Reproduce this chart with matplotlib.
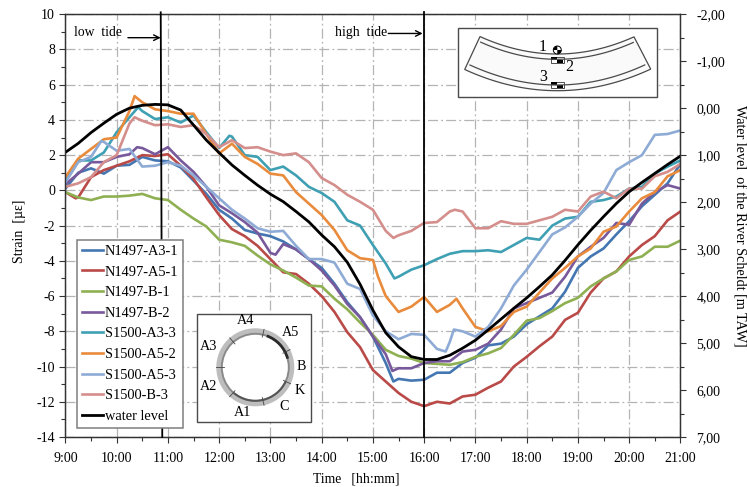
"""Strain in the tunnel segments against the water level of the river."""

import matplotlib
matplotlib.use("Agg")
import matplotlib.pyplot as plt
import numpy as np
from matplotlib.patches import Arc, Circle, Polygon, Rectangle, Wedge
from matplotlib.ticker import FixedLocator, FuncFormatter, MultipleLocator

plt.rcParams["font.family"] = ["Liberation Serif", "DejaVu Serif"]
plt.rcParams["axes.unicode_minus"] = False

# 9:00 .. 21:00 read every quarter of an hour
TIMES = 9 + 0.25 * np.arange(49)
HOUR_TICKS = list(range(9, 22))

N1497_A3_1 = [0.1, 1.0, 1.25, 0.95, 1.4, 1.45, 1.9, 1.7, 1.65, 1.3, 0.55, -0.2,
              -1.1, -1.6, -2.25, -2.45, -2.6, -2.9, -3.35, -3.9, -4.4, -5.3, -6.35, -7.2,
              -8.3, -9.8, -10.7, -10.8, -10.75, -10.35, -10.35, -9.8, -9.5, -8.8, -8.7, -8.3,
              -7.6, -7.15, -6.7, -5.75, -4.4, -3.75, -3.3, -2.5, -1.75, -0.9, -0.25, 0.4, 1.5]
N1497_A5_1 = [-0.1, -0.4, 0.75, 1.15, 1.4, 1.65, 2.0, 1.95, 2.05, 1.4, 0.65, -0.4,
              -1.4, -2.2, -2.6, -3.15, -3.9, -4.65, -4.75, -5.3, -6.0, -6.9, -8.05, -8.9,
              -10.2, -10.85, -11.5, -12.0, -12.25, -12.0, -12.1, -11.7, -11.6, -11.2, -10.85, -10.0,
              -9.45, -8.85, -8.3, -7.35, -6.95, -5.8, -5.0, -4.6, -3.75, -3.1, -2.6, -1.7, -1.2]
N1497_B_1 = [-0.1, -0.4, -0.55, -0.35, -0.35, -0.3, -0.2, -0.45, -0.55, -1.1, -1.6, -2.05,
             -2.8, -2.95, -3.15, -3.7, -4.2, -4.55, -4.95, -5.4, -5.45, -6.15, -6.75, -7.5,
             -8.2, -9.05, -9.4, -9.55, -9.8, -9.85, -9.9, -9.75, -9.45, -9.25, -8.95, -8.2,
             -7.4, -7.25, -6.85, -6.4, -6.1, -5.45, -5.0, -4.6, -3.95, -3.75, -3.2, -3.2, -2.85]
N1497_B_2 = [0.35, 0.95, 1.6, 1.6, 1.9, 2.05, 2.4, 2.05, 2.45, 1.7, 1.05, 0.2,
             -0.85, -1.3, -1.8, -2.4, -3.55, -3.05, -3.35, -3.9, -4.55, -5.4, -6.45, -7.2,
             -8.3, -9.3, -10.1, -10.1, -9.8, -9.7, -9.7, -9.15, -9.05, -8.7, -7.9, -6.7,
             -6.4, -6.1, -5.8, -4.9, -3.75, -3.2, -2.7, -1.85, -1.95, -0.75, -0.1, 0.3, 0.1]
S1500_A3_3 = [0.55, 1.7, 1.7, 2.15, 3.3, 4.15, 4.5, 4.05, 4.15, 3.85, 4.25, 3.3,
              2.4, 3.05, 2.0, 1.9, 1.15, 1.35, 0.85, 0.2, -0.15, -0.65, -1.7, -2.0,
              -3.1, -4.15, -4.9, -4.5, -4.25, -3.9, -3.6, -3.45, -3.45, -3.4, -3.5, -3.1,
              -2.7, -2.8, -2.0, -1.6, -1.5, -0.65, -0.55, -0.35, 0.1, 0.2, 0.95, 1.35, 1.7]
S1500_A5_2 = [0.75, 1.8, 2.35, 2.9, 3.0, 4.5, 5.0, 4.6, 4.5, 4.35, 4.35, 3.2,
              2.1, 2.65, 1.9, 1.5, 0.95, 0.85, -0.1, -0.75, -1.4, -2.25, -3.4, -3.85,
              -3.95, -6.0, -6.9, -6.6, -6.05, -6.9, -6.5, -6.7, -7.75, -8.0, -7.7, -6.9,
              -6.6, -5.8, -5.0, -4.4, -3.75, -3.3, -2.35, -2.05, -1.2, -0.45, -0.1, 0.8, 1.15]
S1500_A5_3 = [0.45, 1.6, 1.9, 2.75, 2.25, 2.35, 1.35, 1.4, 1.6, 1.4, 0.85, 0.2,
              -0.45, -1.1, -1.6, -2.15, -2.35, -2.3, -3.15, -3.9, -3.9, -4.1, -5.3, -5.6,
              -7.1, -8.0, -8.45, -8.15, -8.2, -9.0, -8.6, -8.0, -8.3, -7.75, -6.7, -5.4,
              -4.5, -3.5, -2.5, -2.1, -1.5, -0.75, -0.15, 1.15, 1.6, 2.0, 3.15, 3.2, 3.4]
S1500_B_3 = [0.2, 0.4, 0.75, 1.6, 2.0, 3.8, 3.95, 3.7, 3.75, 3.6, 3.7, 3.2,
             2.45, 2.85, 2.4, 2.45, 2.2, 2.0, 2.1, 1.6, 0.7, 0.3, -0.25, -0.65,
             -1.1, -2.3, -2.55, -2.3, -1.85, -1.8, -1.2, -1.2, -2.15, -2.15, -1.75, -1.9,
             -1.9, -1.7, -1.5, -1.1, -1.2, -0.35, -0.07, -0.45, 0.1, 0.1, 0.8, 1.05, 1.5]
WATER_LEVEL = [0.94, 0.75, 0.52, 0.32, 0.13, 0.0, -0.06, -0.08, -0.07, 0.04, 0.36, 0.68,
               0.95, 1.21, 1.43, 1.64, 1.83, 1.99, 2.2, 2.42, 2.7, 2.95, 3.28, 3.75,
               4.3, 4.78, 5.08, 5.29, 5.35, 5.35, 5.26, 5.11, 4.94, 4.72, 4.49, 4.26,
               4.04, 3.8, 3.55, 3.24, 2.91, 2.6, 2.31, 2.03, 1.78, 1.58, 1.39, 1.2, 1.02]

# sharp features that fall between the quarter-hour readings: (time, strain)
EXTRA_READINGS = {
    "N1497-A3-1": [(15.4, -10.85)],
    "N1497-A5-1": [(9.2, -0.45)],
    "N1497-B-2": [(10.4, 2.45), (13.1, -3.65), (15.38, -10.25)],
    "S1500-A3-3": [(10.42, 4.72), (12.2, 3.1), (15.42, -5.0)],
    "S1500-A5-2": [(10.35, 5.35), (15.1, -4.9), (16.63, -6.15)],
    "S1500-A5-3": [(9.7, 2.8), (16.42, -9.15), (16.58, -7.9)],
    "S1500-B-3": [(10.35, 4.15), (15.4, -2.7), (16.6, -1.1)],
}

STRAIN_SERIES = [
    ("N1497-A3-1", N1497_A3_1, "#4477B2"),
    ("N1497-A5-1", N1497_A5_1, "#B94A48"),
    ("N1497-B-1", N1497_B_1, "#8FB052"),
    ("N1497-B-2", N1497_B_2, "#78599C"),
    ("S1500-A3-3", S1500_A3_3, "#3FA0B4"),
    ("S1500-A5-2", S1500_A5_2, "#E98B3C"),
    ("S1500-A5-3", S1500_A5_3, "#8EABD6"),
    ("S1500-B-3", S1500_B_3, "#D48E8C"),
]

LOW_TIDE = (10.86, 10.89)
HIGH_TIDE = (16.0, 16.0)

RING_TICKS = [77, 27, -25, -77, -131, 180, 131]
RING_LABELS = [("A4", 246, 321), ("A5", 290, 333), ("A3", 209, 346), ("B", 301, 367),
               ("A2", 208, 387), ("K", 300, 390), ("C", 284, 406), ("A1", 243, 413)]

W, H = 747, 487
fig = plt.figure(figsize=(W / 100, H / 100), dpi=100)
ax = fig.add_axes([65.4 / W, 1 - 437 / H, 615 / W, 422.8 / H])
ax2 = ax.twinx()

for label, values, colour in STRAIN_SERIES:
    points = sorted(list(zip(TIMES, values)) + EXTRA_READINGS.get(label, []))
    xs, ys = zip(*points)
    ax.plot(xs, ys, color=colour, lw=1.9, label=label, solid_joinstyle="round")
water_line, = ax2.plot(TIMES, WATER_LEVEL, color="black", lw=2.0, label="water level")

ax.set_xlim(9, 21)
ax.set_ylim(-14, 10)
ax2.set_ylim(7, -2)

grid_style = dict(color="#B4B4B4", lw=0.9, dashes=(8, 2.5, 1.5, 2.5))
ax.xaxis.set_major_locator(FixedLocator(HOUR_TICKS))
ax.xaxis.set_minor_locator(MultipleLocator(0.5))
ax.xaxis.set_major_formatter(FuncFormatter(lambda v, _: f"{int(v)}:00"))
ax.yaxis.set_major_locator(MultipleLocator(2))
ax.yaxis.set_minor_locator(MultipleLocator(1))
ax.grid(True, which="major", **grid_style)
ax.set_axisbelow(True)
ax2.yaxis.set_major_locator(MultipleLocator(1))
ax2.yaxis.set_minor_locator(MultipleLocator(0.5))
ax2.yaxis.set_major_formatter(FuncFormatter(lambda v, _: f"{v:.2f}".replace(".", ",")))

for axis in (ax, ax2):
    axis.tick_params(which="major", length=4.5, width=0.8, color="#333333", labelsize=10, pad=3)
    axis.tick_params(which="minor", length=3, width=0.8, color="#333333")
    for spine in axis.spines.values():
        spine.set_color("#333333")
        spine.set_linewidth(0.9)
ax.tick_params(axis="x", pad=6)
ax2.tick_params(axis="y", pad=7)

# tide markers run slightly past the frame
for tide in (LOW_TIDE, HIGH_TIDE):
    ax2.plot([tide[0], tide[1]], [-2.04, 7], color="black", lw=1.3, clip_on=False, zorder=5)

ax2.text(9.16, -1.62, "low  tide", fontsize=9.8, va="center")
ax2.annotate("", xy=(LOW_TIDE[0], -1.5), xytext=(10.22, -1.5),
             arrowprops=dict(arrowstyle="->", color="black", lw=1.0, shrinkA=0, shrinkB=0))
ax2.text(14.27, -1.62, "high  tide", fontsize=9.8, va="center")
ax2.annotate("", xy=(15.97, -1.59), xytext=(15.3, -1.59),
             arrowprops=dict(arrowstyle="->", color="black", lw=1.0, shrinkA=0, shrinkB=0))

fig.text(19.5 / W, 1 - 231 / H, "Strain  [µε]", rotation=90, fontsize=10, ha="center", va="center")
fig.text(356 / W, 1 - 479 / H, "Time   [hh:mm]", fontsize=9.8, ha="center", va="center")
fig.text(739 / W, 1 - 226 / H, "Water level  of the River Scheldt [m TAW]", rotation=270,
         fontsize=10.2, ha="center", va="center")

# overlay in pixel coordinates for legend frame position and the two sketches
over = fig.add_axes([0, 0, 1, 1], zorder=10)
over.set_xlim(0, W)
over.set_ylim(H, 0)
over.axis("off")

handles = ax.get_lines()[:8] + [water_line]
legend = over.legend(handles, [h.get_label() for h in handles], loc="upper left",
                     bbox_to_anchor=(77 / W, 1 - 240 / H), bbox_transform=fig.transFigure,
                     fontsize=10.4, frameon=True, fancybox=False, framealpha=1,
                     edgecolor="#7F7F7F", borderaxespad=0, borderpad=0.33,
                     labelspacing=0.52, handlelength=1.5, handletextpad=0.1)
legend.get_frame().set_linewidth(1.1)

# ring section sketch
over.add_patch(Rectangle((196.5, 313.5), 114, 108, fc="white", ec="#4A4A4A", lw=1.0))
cx, cy = 255.3, 367.3
over.add_patch(Wedge((cx, cy), 39, 0, 360, width=7, fc="#BDBDBD", ec="none"))
over.add_patch(Circle((cx, cy), 33.5, fc="white", ec="#8A8A8A", lw=1.4))
over.add_patch(Arc((cx, cy), 67, 67, theta1=25, theta2=130, color="#555555", lw=1.4))
over.add_patch(Arc((cx, cy), 67, 67, theta1=-70, theta2=-15, color="#2A2A2A", lw=2.0))
for angle in RING_TICKS:
    c, s = np.cos(np.radians(angle)), np.sin(np.radians(angle))
    over.plot([cx + 31 * c, cx + 39 * c], [cy - 31 * s, cy - 39 * s], color="#444444", lw=0.6)
for label, x, y in RING_LABELS:
    over.text(x, y, label, fontsize=10.2, ha="center", va="center")

# tunnel segment sketch
over.add_patch(Rectangle((458, 27.7), 198.7, 69.6, fc="white", ec="#4A4A4A", lw=1.0))


def arc_points(x_left, x_right, y_end, x_mid, y_mid):
    xs = np.linspace(x_left, x_right, 60)
    half = (x_right - x_left) / 2
    return xs, y_mid + (y_end - y_mid) * ((xs - x_mid) / half) ** 2


top_x, top_y = arc_points(480, 634, 36.7, 557.3, 54)
bot_x, bot_y = arc_points(464.7, 650.7, 69.3, 557.3, 90.7)
over.add_patch(Polygon(np.column_stack([np.r_[top_x, bot_x[::-1]], np.r_[top_y, bot_y[::-1]]]),
                       closed=True, fc="#FAFAFA", ec="#4A4A4A", lw=0.9))
for args in ((480.7, 633.3, 42.3, 557.3, 59.3), (470, 644.7, 65, 557.3, 85)):
    xs, ys = arc_points(*args)
    over.plot(xs, ys, color="#4A4A4A", lw=0.9)

for y_top in (56.7, 81.7):
    over.add_patch(Rectangle((551, y_top), 12.5, 6, fc="white", ec="#333333", lw=0.6))
    over.add_patch(Rectangle((551, y_top), 6, 3, fc="black", ec="none"))
    over.add_patch(Rectangle((557, y_top + 3), 6, 3, fc="black", ec="none"))
over.add_patch(Circle((557.3, 50), 4, fc="white", ec="black", lw=0.7))
over.add_patch(Wedge((557.3, 50), 4, 180, 270, fc="black", ec="none"))
over.add_patch(Wedge((557.3, 50), 4, 0, 90, fc="black", ec="none"))
for label, x, y in (("1", 542.3, 46.7), ("2", 569, 66.7), ("3", 543.3, 77.3)):
    over.text(x, y, label, fontsize=11.5, ha="center", va="center")

fig.savefig("out.png", dpi=100)
